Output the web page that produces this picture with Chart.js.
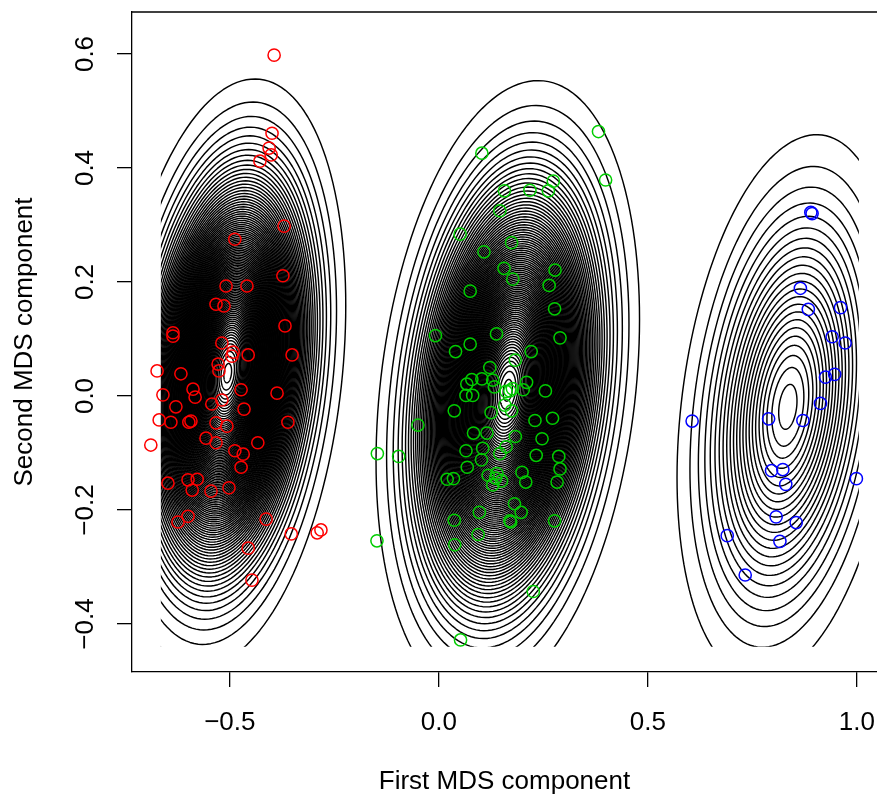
<!DOCTYPE html>
<html><head><meta charset="utf-8">
<script src="https://cdn.jsdelivr.net/npm/chart.js@4.4.1/dist/chart.umd.min.js"></script>
<style>html,body{margin:0;padding:0;background:#fff}</style>
</head><body>
<canvas id="c" width="877" height="796"></canvas>
<script>
// ---- data ----
const redX = [-0.394,-0.399,-0.406,-0.401,-0.428,-0.370,-0.488,-0.373,-0.509,-0.459,-0.533,-0.514,-0.636,-0.636,-0.368,-0.519,-0.492,-0.495,-0.456,-0.351,-0.674,-0.617,-0.528,-0.526,-0.588,-0.583,-0.660,-0.473,-0.387,-0.519,-0.543,-0.629,-0.466,-0.669,-0.641,-0.598,-0.593,-0.533,-0.507,-0.361,-0.557,-0.533,-0.689,-0.433,-0.488,-0.468,-0.473,-0.648,-0.600,-0.578,-0.590,-0.545,-0.502,-0.413,-0.600,-0.624,-0.353,-0.291,-0.282,-0.456,-0.447];
const redY = [0.598,0.461,0.435,0.423,0.412,0.298,0.275,0.211,0.193,0.193,0.161,0.158,0.111,0.105,0.123,0.093,0.077,0.070,0.072,0.072,0.044,0.039,0.056,0.044,0.012,-0.002,0.002,0.011,0.005,-0.007,-0.014,-0.019,-0.023,-0.042,-0.046,-0.046,-0.044,-0.047,-0.053,-0.046,-0.074,-0.082,-0.086,-0.082,-0.096,-0.102,-0.125,-0.153,-0.147,-0.146,-0.165,-0.167,-0.161,-0.216,-0.211,-0.221,-0.242,-0.240,-0.235,-0.267,-0.323];

const greenX = [0.382,0.399,0.103,0.157,0.218,0.262,0.274,0.146,0.051,0.174,0.108,0.278,0.156,0.177,0.264,0.075,0.277,-0.008,0.138,0.290,0.075,0.040,0.221,0.183,0.122,0.079,0.103,0.067,0.129,0.133,0.210,0.176,0.170,0.161,0.202,0.255,0.065,0.081,0.037,0.125,0.158,0.174,0.230,0.272,-0.050,0.083,0.115,0.183,0.247,-0.147,-0.096,0.065,0.105,0.102,0.161,0.146,0.233,0.287,0.068,0.290,0.020,0.035,0.118,0.139,0.150,0.129,0.136,0.199,0.208,0.283,0.181,0.197,0.097,0.170,0.172,0.037,0.277,0.094,0.038,-0.148,0.226,0.052];
const greenY = [0.464,0.379,0.426,0.360,0.361,0.360,0.377,0.325,0.284,0.269,0.253,0.221,0.224,0.205,0.194,0.184,0.153,0.106,0.109,0.102,0.091,0.078,0.078,0.063,0.050,0.029,0.030,0.021,0.028,0.016,0.024,0.013,0.009,0.008,0.011,0.009,0.001,0.001,-0.026,-0.029,-0.016,-0.026,-0.043,-0.039,-0.051,-0.065,-0.065,-0.071,-0.075,-0.101,-0.106,-0.096,-0.092,-0.112,-0.089,-0.101,-0.104,-0.106,-0.125,-0.128,-0.146,-0.145,-0.139,-0.136,-0.149,-0.156,-0.144,-0.134,-0.151,-0.151,-0.189,-0.204,-0.204,-0.219,-0.221,-0.218,-0.219,-0.243,-0.261,-0.254,-0.343,-0.428];

const blueX = [0.890,0.893,0.865,0.884,0.961,0.941,0.972,0.925,0.947,0.913,0.606,0.789,0.871,0.999,0.796,0.823,0.830,0.807,0.855,0.690,0.816,0.733];
const blueY = [0.322,0.320,0.189,0.152,0.155,0.104,0.093,0.033,0.038,-0.013,-0.044,-0.040,-0.043,-0.145,-0.131,-0.129,-0.155,-0.212,-0.222,-0.245,-0.255,-0.314];

const xTickValues = [-0.5, 0.0, 0.5, 1.0];
const yTickValues = [-0.4, -0.2, 0.0, 0.2, 0.4, 0.6];
const xTitle = 'First MDS component';
const yTitle = 'Second MDS component';

// ---- density contour model (one Gaussian per group, levels in equal steps) ----
const groupCentreX = [-0.505, 0.165, 0.835];
const groupCentreY = [0.040, 0.010, -0.019];
const groupSdX = [0.093, 0.105, 0.1055];
const groupSdY = [0.170, 0.181, 0.190];
const groupRho = [0.23, 0.23, 0.26];
const groupPeakLevels = [100.5, 90.5, 23.5];
const gridRangeX = [-0.665, 1.005];
const gridRangeY = [-0.44, 0.62];

const FONT = 'Liberation Sans, Arial, Helvetica, sans-serif';
const fmt = v => (Math.abs(v) < 1e-9 ? '0.0' : v.toFixed(1).replace('-', '\u2212'));
const pts = (xs, ys) => xs.map((v, i) => ({x: v, y: ys[i]}));

const contourPlugin = {
  id: 'contours',
  beforeDatasetsDraw(chart) {
    const {ctx, chartArea: a, scales: {x, y}} = chart;
    const gx0 = Math.max(x.getPixelForValue(gridRangeX[0]), a.left);
    const gx1 = Math.min(x.getPixelForValue(gridRangeX[1]), a.right);
    const gy0 = Math.max(y.getPixelForValue(gridRangeY[1]), a.top);
    const gy1 = Math.min(y.getPixelForValue(gridRangeY[0]), a.bottom);
    ctx.save();
    ctx.beginPath();
    ctx.rect(gx0, gy0, gx1 - gx0, gy1 - gy0);
    ctx.clip();
    ctx.strokeStyle = '#000';
    ctx.lineWidth = 1.45;
    ctx.lineJoin = 'round';
    const N = 160;
    for (let k = 0; k < groupCentreX.length; k++) {
      const P = groupPeakLevels[k];
      const s = Math.sqrt(1 - groupRho[k] * groupRho[k]);
      for (let i = 1; i < P; i++) {
        const r = Math.sqrt(2 * Math.log(P / i));
        ctx.beginPath();
        for (let j = 0; j <= N; j++) {
          const t = 2 * Math.PI * j / N;
          const u = r * Math.cos(t), w = r * Math.sin(t);
          const xv = groupCentreX[k] + groupSdX[k] * u;
          const yv = groupCentreY[k] + groupSdY[k] * (groupRho[k] * u + s * w);
          const px = x.getPixelForValue(xv), py = y.getPixelForValue(yv);
          if (j === 0) ctx.moveTo(px, py); else ctx.lineTo(px, py);
        }
        ctx.closePath();
        ctx.stroke();
      }
    }
    ctx.restore();
  }
};

const boxPlugin = {
  id: 'box',
  afterDraw(chart) {
    const {ctx, chartArea: a} = chart;
    ctx.save();
    ctx.strokeStyle = '#000';
    ctx.lineWidth = 1.3;
    ctx.beginPath();
    ctx.moveTo(a.left, a.top);
    ctx.lineTo(a.right + 2, a.top);
    ctx.stroke();
    ctx.restore();
  }
};

const ds = (xs, ys, col) => ({
  data: pts(xs, ys), borderColor: col, backgroundColor: 'rgba(0,0,0,0)',
  pointRadius: 6.1, pointHoverRadius: 6.1, pointBorderWidth: 1.5, borderWidth: 1.5, showLine: false
});

new Chart(document.getElementById('c'), {
  type: 'scatter',
  data: { datasets: [ds(redX, redY, '#FF0000'), ds(greenX, greenY, '#00CD00'), ds(blueX, blueY, '#0000FF')] },
  options: {
    responsive: false, animation: false, devicePixelRatio: 1, events: [],
    layout: { autoPadding: false, padding: { left: 0, right: 0, top: 12, bottom: 0 } },
    plugins: { legend: { display: false }, tooltip: { enabled: false } },
    scales: {
      x: {
        type: 'linear', min: -0.734, max: 1.0483,
        afterBuildTicks: s => { s.ticks = xTickValues.map(v => ({value: v})); },
        afterFit: s => { s.height = 124; s.paddingLeft = 0; s.paddingRight = 0; },
        ticks: { callback: fmt, color: '#000', font: {family: FONT, size: 26}, padding: 20, maxRotation: 0, minRotation: 0, autoSkip: false },
        grid: { display: true, drawOnChartArea: false, drawTicks: true, tickLength: 15, color: '#000', lineWidth: 1.3 },
        border: { display: true, color: '#000', width: 1.3 },
        title: { display: true, text: xTitle, color: '#000', font: {family: FONT, size: 26, lineHeight: 1}, padding: {top: 0, bottom: 1} }
      },
      y: {
        type: 'linear', min: -0.4842, max: 0.6737,
        afterBuildTicks: s => { s.ticks = yTickValues.map(v => ({value: v})); },
        afterFit: s => { s.width = 132; s.paddingTop = 0; s.paddingBottom = 0; },
        ticks: { callback: fmt, color: '#000', font: {family: FONT, size: 26}, padding: 6, minRotation: 90, maxRotation: 90, crossAlign: 'center', autoSkip: false },
        grid: { display: true, drawOnChartArea: false, drawTicks: true, tickLength: 15, color: '#000', lineWidth: 1.3 },
        border: { display: true, color: '#000', width: 1.3 },
        title: { display: true, text: yTitle, color: '#000', font: {family: FONT, size: 26, lineHeight: 1}, padding: {top: 12, bottom: 0} }
      }
    }
  },
  plugins: [contourPlugin, boxPlugin]
});
</script>
</body></html>
